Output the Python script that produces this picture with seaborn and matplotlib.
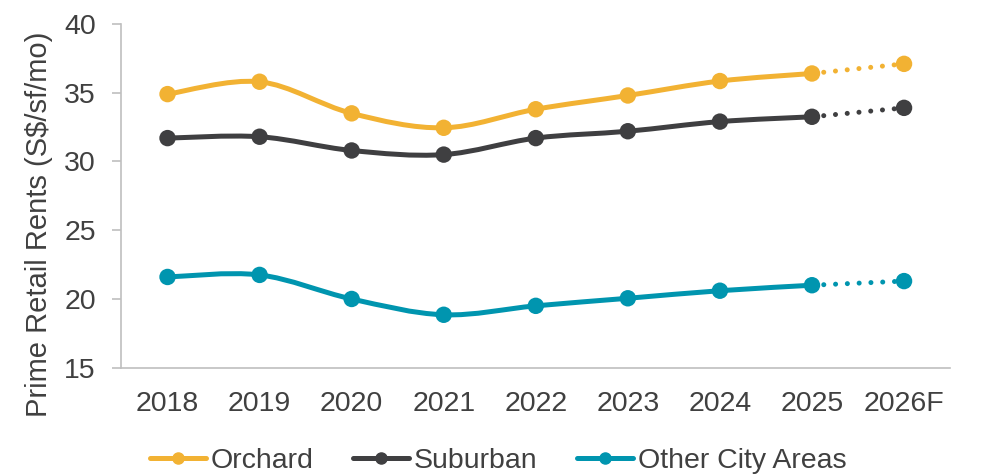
import numpy as np
import pandas as pd
import seaborn as sns
import matplotlib
matplotlib.use("Agg")
import matplotlib.pyplot as plt
from matplotlib.path import Path
from matplotlib.patches import PathPatch
from matplotlib.lines import Line2D

# ---- data ----
years = ["2018", "2019", "2020", "2021", "2022", "2023", "2024", "2025", "2026F"]
orchard = [34.9, 35.8, 33.5, 32.45, 33.8, 34.8, 35.85, 36.4, 37.1]
suburban = [31.7, 31.8, 30.8, 30.5, 31.7, 32.2, 32.9, 33.25, 33.9]
other_city = [21.6, 21.75, 20.0, 18.85, 19.5, 20.05, 20.6, 21.0, 21.3]
series_names = ["Orchard", "Suburban", "Other City Areas"]
colors = ["#F2B233", "#3F3F41", "#0095AF"]
n_actual = 8  # 2018-2025 actual, 2026F forecast

sns.set_theme(style="white")
plt.rcParams["font.family"] = ["Liberation Sans", "DejaVu Sans"]
text_color = "#404040"
fs = 20.5

fig, ax = plt.subplots(figsize=(9.83, 4.76), dpi=100)
fig.subplots_adjust(left=0.1236, right=0.9665, top=0.9496, bottom=0.2275)

x = np.arange(len(years))
frames = []
for name, vals in zip(series_names, [orchard, suburban, other_city]):
    frames.append(pd.DataFrame({"x": x, "year": years, "value": vals, "series": name}))
df = pd.concat(frames, ignore_index=True)

lw = 3.6
for name, col in zip(series_names, colors):
    d = df[df.series == name].reset_index(drop=True)
    P = d[["x", "value"]].to_numpy(dtype=float)[:n_actual]
    # smoothed curve (Catmull-Rom as cubic Bezier) for the actual years
    verts = [tuple(P[0])]
    codes = [Path.MOVETO]
    n = len(P)
    for i in range(n - 1):
        p0 = P[i - 1] if i > 0 else P[i]
        p1 = P[i]
        p2 = P[i + 1]
        p3 = P[i + 2] if i + 2 < n else P[i + 1]
        c1 = p1 + (p2 - p0) / 6.0
        c2 = p2 - (p3 - p1) / 6.0
        verts += [tuple(c1), tuple(c2), tuple(p2)]
        codes += [Path.CURVE4] * 3
    ax.add_patch(PathPatch(Path(verts, codes), fill=False, edgecolor=col,
                           lw=lw, capstyle="round", joinstyle="round", zorder=2))
    # dotted forecast segment
    fc = d.iloc[n_actual - 1:]
    sns.lineplot(data=fc, x="x", y="value", ax=ax, color=col, lw=lw,
                 linestyle=(0, (0.01, 2.35)), dash_capstyle="round",
                 legend=False, zorder=2)
    # markers
    sns.scatterplot(data=d, x="x", y="value", ax=ax, color=col, s=140,
                    edgecolor="none", legend=False, zorder=3)

ax.set_xlim(-0.5, len(years) - 0.5)
ax.set_ylim(15, 40)
ax.set_yticks([15, 20, 25, 30, 35, 40])
ax.set_xticks(x)
ax.set_xticklabels(years)
ax.set_xlabel("")
ax.set_ylabel("Prime Retail Rents (S$/sf/mo)", fontsize=21, color=text_color)
ax.yaxis.set_label_coords(-0.083, 0.416)

for s in ["top", "right"]:
    ax.spines[s].set_visible(False)
for s in ["left", "bottom"]:
    ax.spines[s].set_color("#BFBFBF")
    ax.spines[s].set_linewidth(1.2)

ax.tick_params(axis="y", which="both", left=True, length=6.5, width=1.2,
               color="#BFBFBF", labelsize=fs, labelcolor=text_color, pad=12)
ax.tick_params(axis="x", which="both", bottom=False, labelsize=fs,
               labelcolor=text_color, pad=11)
ax.grid(False)

handles = [Line2D([0], [0], color=c, lw=lw, marker="o", markersize=8)
           for c in colors]
fig.legend(handles, series_names, loc="center", ncol=3,
           bbox_to_anchor=(0.5066, 0.032), frameon=False, fontsize=fs,
           handlelength=1.97, handletextpad=0.18, columnspacing=1.37,
           borderpad=0.0, labelcolor=text_color)

fig.savefig("out.png", dpi=100)
